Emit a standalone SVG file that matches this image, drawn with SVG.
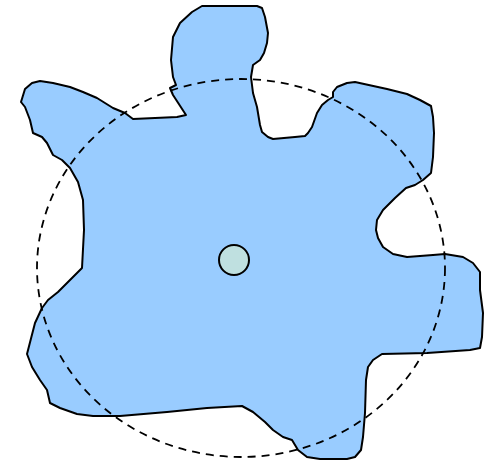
<svg xmlns="http://www.w3.org/2000/svg" width="493" height="463" viewBox="0 0 493 463">
<style>
.blob{fill:#99ccff;stroke:#000;stroke-width:2;stroke-linejoin:round}
.ring{fill:none;stroke:#000;stroke-width:1.8;stroke-dasharray:8 6}
.hub{fill:#bfe0e0;stroke:#000;stroke-width:2}
</style>
<rect width="493" height="463" fill="#fff"/>
<g id="gear">
<path class="blob" d="M202,6 L192,12 L180,23 L173,37 L171,60 L173,77 L176,85 L170,88 L173,95 L186,115 L177,117 L133,119 L125,113 L113,108 L97,98 L83,92 L70,87 L53,83 L40,81 L32,83 L25,89 L21,102 L25,107 L30,120 L33,133 L42,137 L47,143 L53,155 L62,160 L70,168 L78,182 L83,200 L84,230 L82,268 L72,278 L58,292 L48,300 L42,308 L35,323 L27,354 L32,367 L40,380 L47,390 L50,403 L60,408 L77,414 L93,416 L120,416 L167,412 L207,408 L242,406 L253,412 L265,422 L273,430 L283,437 L292,440 L298,450 L307,457 L320,459 L347,459 L355,457 L361,450 L363,437 L365,413 L366,380 L368,367 L373,360 L382,354 L427,353 L470,350 L480,348 L482,337 L483,313 L480,290 L480,272 L473,263 L463,257 L445,254 L433,255 L407,257 L393,254 L383,247 L378,238 L376,230 L377,220 L383,210 L395,198 L406,188 L415,185 L423,180 L431,173 L433,157 L434,133 L433,117 L431,106 L420,100 L407,94 L387,89 L355,82 L347,83 L337,87 L333,92 L333,97 L328,100 L322,105 L317,113 L312,127 L308,133 L305,136 L295,137 L273,139 L268,137 L262,132 L260,125 L257,107 L253,93 L251,77 L253,65 L260,60 L264,53 L267,43 L268,33 L265,17 L262,8 L257,6 L250,6 Z"/>
</g>
<g id="pitch-circle">
<ellipse class="ring" cx="241" cy="268" rx="204" ry="189"/>
</g>
<g id="hub">
<circle class="hub" cx="234" cy="260" r="15"/>
</g>
</svg>
